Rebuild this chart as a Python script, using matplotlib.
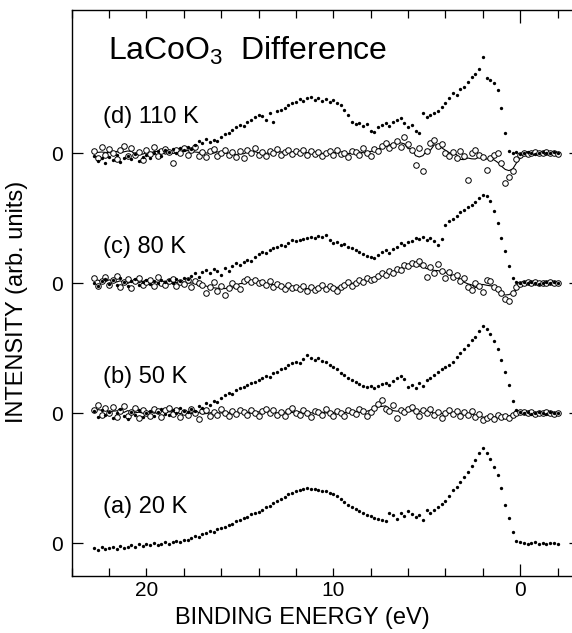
import numpy as np
import matplotlib
matplotlib.use("Agg")
import matplotlib.pyplot as plt
from matplotlib.ticker import MultipleLocator, FixedLocator

plt.rcParams['font.family'] = ['Liberation Sans', 'DejaVu Sans']
plt.rcParams['mathtext.default'] = 'regular'

# binding energy grid (eV), 22.8 -> -2.0 in 0.2 eV steps
energy = np.round(np.arange(22.8, -2.05, -0.2), 2)

offsets = [0.0, 1.3, 2.6, 3.9]
panel_labels = ["(a) 20 K", "(b) 50 K", "(c) 80 K", "(d) 110 K"]
title_text = "LaCoO$_3$  Difference"
xticks_major = [20, 10, 0]
ytick_labels = ["0", "0", "0", "0"]

spec_20K = [
    -0.05, -0.07, -0.04, -0.06, -0.05,
    -0.04, -0.06, -0.03, -0.05, -0.04,
    -0.02, -0.04, -0.01, -0.03, -0.01,
    -0.02, 0.00, -0.02, -0.01, 0.01,
    -0.01, 0.01, 0.02, 0.01, 0.03,
    0.03, 0.05, 0.07, 0.06, 0.09,
    0.10, 0.12, 0.11, 0.14, 0.15,
    0.16, 0.18, 0.19, 0.22, 0.23,
    0.25, 0.26, 0.29, 0.30, 0.31,
    0.33, 0.36, 0.37, 0.40, 0.42,
    0.44, 0.46, 0.49, 0.50, 0.52,
    0.53, 0.54, 0.55, 0.54, 0.54,
    0.53, 0.52, 0.52, 0.50, 0.49,
    0.47, 0.44, 0.41, 0.38, 0.36,
    0.34, 0.32, 0.30, 0.28, 0.27,
    0.25, 0.24, 0.23, 0.22, 0.30,
    0.28, 0.24, 0.30, 0.27, 0.32,
    0.29, 0.26, 0.28, 0.23, 0.33,
    0.30, 0.33, 0.36, 0.39, 0.42,
    0.47, 0.53, 0.56, 0.61, 0.66,
    0.71, 0.77, 0.83, 0.90, 0.95,
    0.90, 0.84, 0.76, 0.68, 0.55,
    0.38, 0.25, 0.11, 0.02, 0.01,
    0.00, -0.01, 0.00, 0.01, -0.01,
    0.00, -0.01, 0.00, 0.00, -0.01,
]

spec_50K = [
    0.02, -0.04, 0.03, -0.02, 0.01,
    -0.05, 0.00, 0.04, -0.03, -0.06,
    0.01, -0.02, 0.03, -0.04, 0.00,
    0.02, -0.03, 0.01, 0.04, -0.01,
    -0.02, 0.03, 0.00, 0.05, 0.02,
    0.01, 0.04, 0.02, 0.07, 0.05,
    0.10, 0.08, 0.12, 0.11, 0.15,
    0.18, 0.20, 0.19, 0.23, 0.25,
    0.26, 0.28, 0.30, 0.31, 0.33,
    0.35, 0.37, 0.36, 0.40, 0.41,
    0.44, 0.45, 0.48, 0.50, 0.51,
    0.50, 0.54, 0.58, 0.55, 0.53,
    0.55, 0.52, 0.51, 0.48, 0.46,
    0.44, 0.40, 0.38, 0.35, 0.33,
    0.31, 0.29, 0.27, 0.26, 0.27,
    0.25, 0.27, 0.29, 0.30, 0.28,
    0.32, 0.35, 0.37, 0.34, 0.26,
    0.28, 0.25, 0.30, 0.27, 0.33,
    0.35, 0.38, 0.41, 0.44, 0.46,
    0.48, 0.51, 0.56, 0.60, 0.64,
    0.68, 0.73, 0.76, 0.82, 0.87,
    0.84, 0.79, 0.72, 0.64, 0.53,
    0.41, 0.28, 0.12, 0.03, 0.01,
    0.00, 0.01, -0.01, 0.00, 0.01,
    0.00, -0.01, 0.01, 0.00, 0.00,
]

diff_50K = [
    0.03, 0.08, -0.02, 0.05, 0.00,
    0.06, -0.04, 0.02, 0.07, -0.03,
    0.01, 0.05, -0.05, 0.03, 0.00,
    -0.03, 0.04, 0.02, -0.04, 0.03,
    0.05, -0.01, 0.03, -0.04, 0.01,
    -0.02, 0.04, 0.00, -0.06, 0.02,
    0.03, -0.03, 0.01, -0.02, 0.04,
    0.00, -0.03, 0.02, -0.01, 0.03,
    0.01, -0.02, 0.03, 0.00, -0.03,
    0.02, 0.04, 0.00, 0.03, -0.02,
    0.01, -0.03, 0.02, 0.05, 0.00,
    -0.02, 0.03, 0.00, -0.04, 0.02,
    0.01, -0.02, 0.04, 0.00, -0.03,
    0.02, 0.00, -0.03, 0.03, 0.01,
    -0.01, 0.04, 0.02, -0.03, 0.01,
    0.05, 0.09, 0.13, 0.04, 0.02,
    0.08, -0.05, 0.03, 0.01, 0.04,
    0.06, 0.02, -0.03, 0.03, 0.00,
    0.04, -0.02, 0.01, -0.05, 0.00,
    0.03, -0.01, 0.02, -0.03, 0.01,
    -0.02, 0.02, -0.04, -0.01, -0.07,
    -0.05, -0.03, -0.06, -0.02, -0.04,
    -0.03, -0.05, -0.02, 0.00, 0.01,
    0.01, 0.00, 0.01, -0.01, 0.00,
    0.00, 0.01, 0.00, -0.01, 0.00,
]

spec_80K = [
    0.00, -0.03, 0.02, 0.04, -0.01,
    0.03, -0.02, 0.05, 0.01, -0.03,
    0.02, 0.04, -0.02, 0.01, 0.03,
    -0.01, 0.02, 0.00, 0.03, 0.01,
    0.03, 0.00, 0.04, 0.02, 0.05,
    0.04, 0.07, 0.10, 0.06, 0.11,
    0.13, 0.10, 0.14, 0.12, 0.08,
    0.15, 0.12, 0.17, 0.20, 0.18,
    0.21, 0.23, 0.22, 0.26, 0.29,
    0.31, 0.30, 0.33, 0.35, 0.36,
    0.38, 0.37, 0.40, 0.43, 0.42,
    0.43, 0.44, 0.45, 0.46, 0.45,
    0.47, 0.46, 0.48, 0.43, 0.40,
    0.41, 0.38, 0.39, 0.36, 0.35,
    0.33, 0.31, 0.29, 0.27, 0.26,
    0.25, 0.28, 0.31, 0.33, 0.30,
    0.34, 0.36, 0.40, 0.38, 0.41,
    0.42, 0.45, 0.44, 0.46, 0.43,
    0.45, 0.42, 0.38, 0.44, 0.58,
    0.62, 0.64, 0.67, 0.71, 0.73,
    0.76, 0.78, 0.81, 0.85, 0.88,
    0.87, 0.82, 0.72, 0.60, 0.45,
    0.32, 0.17, 0.05, 0.01, 0.00,
    0.01, 0.00, 0.01, 0.00, -0.01,
    0.00, 0.01, 0.00, 0.01, 0.00,
]

diff_80K = [
    0.05, -0.03, 0.02, 0.06, -0.02,
    0.03, 0.07, -0.04, 0.01, 0.04,
    -0.05, 0.02, 0.05, -0.02, 0.01,
    0.03, -0.03, 0.06, 0.00, -0.02,
    0.02, 0.04, -0.03, 0.01, -0.01,
    0.03, -0.04, 0.02, 0.00, -0.02,
    -0.10, -0.04, 0.01, -0.08, -0.03,
    -0.12, -0.05, 0.00, -0.03, -0.06,
    0.02, 0.04, 0.01, 0.03, 0.00,
    0.01, -0.02, 0.02, -0.04, -0.01,
    -0.03, -0.06, -0.02, -0.05, -0.04,
    -0.06, -0.03, -0.08, -0.04, -0.07,
    -0.05, -0.02, -0.06, -0.03, -0.05,
    -0.08, -0.04, -0.02, 0.01, -0.03,
    0.00, 0.03, 0.01, 0.05, 0.03,
    0.04, 0.07, 0.10, 0.08, 0.12,
    0.10, 0.14, 0.13, 0.18, 0.17,
    0.20, 0.19, 0.22, 0.18, 0.06,
    0.16, 0.10, 0.19, 0.12, 0.05,
    0.11, 0.06, 0.08, 0.02, 0.05,
    -0.04, -0.07, 0.00, -0.03, -0.09,
    0.03, 0.02, -0.04, -0.06, -0.10,
    -0.16, -0.18, -0.10, -0.04, -0.01,
    0.00, 0.01, 0.00, 0.01, 0.00,
    0.00, 0.00, 0.01, 0.00, 0.00,
]

spec_110K = [
    -0.03, -0.08, -0.05, -0.10, -0.04,
    -0.07, -0.02, -0.09, -0.05, -0.03,
    -0.06, -0.01, -0.08, -0.04, -0.02,
    -0.05, 0.00, 0.02, -0.03, 0.03,
    0.01, 0.04, 0.00, 0.05, 0.03,
    0.06, 0.04, 0.08, 0.12, 0.10,
    0.14, 0.11, 0.13, 0.12, 0.16,
    0.19, 0.20, 0.23, 0.26, 0.28,
    0.27, 0.31, 0.33, 0.36, 0.38,
    0.37, 0.33, 0.40, 0.31, 0.42,
    0.43, 0.45, 0.48, 0.50, 0.51,
    0.54, 0.52, 0.55, 0.56, 0.53,
    0.55, 0.52, 0.54, 0.51, 0.53,
    0.50, 0.48, 0.43, 0.38, 0.31,
    0.29, 0.30, 0.27, 0.29, 0.22,
    0.21, 0.26, 0.28, 0.30, 0.27,
    0.31, 0.33, 0.35, 0.30, 0.26,
    0.28, 0.22, 0.20, 0.40, 0.36,
    0.38, 0.40, 0.42, 0.46, 0.50,
    0.55, 0.60, 0.58, 0.64, 0.66,
    0.71, 0.76, 0.79, 0.84, 0.96,
    0.75, 0.73, 0.70, 0.63, 0.45,
    0.20, 0.02, 0.00, 0.01, -0.01,
    0.00, 0.01, 0.00, -0.01, 0.00,
    0.01, 0.00, 0.00, 0.01, 0.00,
]

diff_110K = [
    0.02, -0.05, 0.06, -0.02, 0.04,
    0.00, -0.06, 0.03, 0.07, -0.03,
    0.05, -0.02, 0.01, -0.07, 0.03,
    -0.01, 0.06, -0.03, 0.02, 0.04,
    0.01, -0.10, 0.03, 0.00, 0.05,
    -0.02, 0.03, 0.06, -0.03, 0.01,
    -0.04, 0.02, 0.04, -0.03, 0.00,
    0.03, -0.02, 0.01, -0.04, 0.02,
    -0.05, 0.03, 0.00, 0.05, -0.02,
    0.01, -0.03, 0.02, 0.00, 0.04,
    -0.02, 0.01, 0.03, -0.01, 0.02,
    0.00, 0.03, -0.02, 0.02, -0.01,
    0.01, -0.03, 0.00, 0.02, -0.02,
    0.03, -0.01, 0.00, -0.04, 0.02,
    0.01, -0.02, 0.05, 0.00, -0.03,
    0.04, 0.02, 0.07, 0.10, 0.05,
    0.08, 0.12, 0.06, 0.16, 0.09,
    0.03, -0.12, 0.05, -0.18, 0.02,
    0.10, 0.13, 0.07, 0.09, 0.00,
    -0.03, 0.01, -0.05, 0.02, -0.03,
    -0.27, 0.00, 0.03, -0.02, -0.04,
    -0.17, -0.05, -0.02, 0.00, -0.10,
    -0.30, -0.24, -0.18, -0.06, -0.02,
    0.00, -0.01, 0.00, 0.01, 0.00,
    0.00, 0.01, 0.00, 0.00, -0.01,
]

spectra = [spec_20K, spec_50K, spec_80K, spec_110K]
diffs = [None, diff_50K, diff_80K, diff_110K]


def running_mean(v, w=5):
    v = np.asarray(v, float)
    pad = w // 2
    vp = np.pad(v, pad, mode='edge')
    return np.convolve(vp, np.ones(w) / w, mode='valid')


fig = plt.figure(figsize=(5.72, 6.33), dpi=100)
ax = fig.add_axes([0.1253, 0.0905, 0.8886, 0.8937])

for off, spec, diff in zip(offsets, spectra, diffs):
    if diff is not None:
        d = np.asarray(diff) + off
        ax.plot(energy, running_mean(diff) + off, color='black', lw=0.8, zorder=2)
        ax.plot(energy, d, linestyle='none', marker='o', ms=4.0, mfc='white',
                mec='black', mew=0.7, zorder=3)
    ax.plot(energy, np.asarray(spec) + off, linestyle='none', marker='o',
            ms=2.4, mfc='black', mec='black', mew=0, zorder=4)

for off, lab in zip(offsets, panel_labels):
    ax.text(22.3, off + 0.30, lab, fontsize=17, ha='left', va='baseline')

ax.text(22.05, 4.83, title_text, fontsize=23, ha='left', va='baseline')

ax.set_xlim(24.0, -3.2)
ax.set_ylim(-0.327, 5.33)

ax.xaxis.set_major_locator(FixedLocator(xticks_major))
ax.xaxis.set_minor_locator(MultipleLocator(2))
ax.set_xticklabels([str(t) for t in xticks_major])
ax.set_yticks(offsets)
ax.set_yticklabels(ytick_labels)

ax.tick_params(axis='x', which='both', direction='in', top=True, bottom=True,
               length=6, width=0.9, labelsize=15, pad=4)
ax.tick_params(axis='y', which='both', direction='in', left=True, right=True,
               length=8, width=0.9, labelsize=15, pad=6)
for t in ax.xaxis.get_major_ticks():
    if t.get_loc() == 0:
        t.tick1line.set_markersize(9)
        t.tick2line.set_markersize(9)

for s in ax.spines.values():
    s.set_linewidth(1.0)
ax.spines['right'].set_visible(False)

ax.set_xlabel("BINDING ENERGY (eV)", fontsize=17)
ax.set_ylabel("INTENSITY (arb. units)", fontsize=17)
ax.xaxis.set_label_coords(0.453, -0.055)
ax.yaxis.set_label_coords(-0.085, 0.484)

fig.savefig("out.png", dpi=100)
